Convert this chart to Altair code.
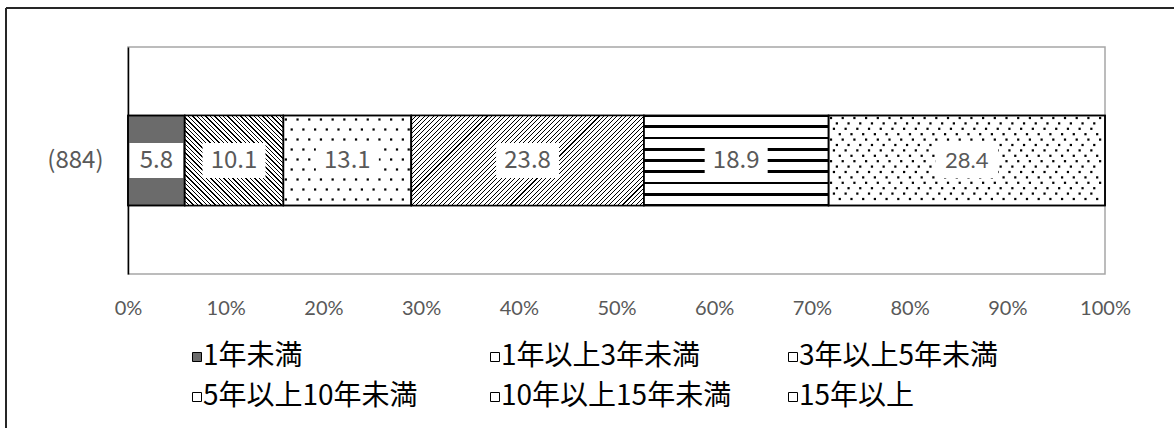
import altair as alt
import numpy as np
import pandas as pd

# ---------------- data ----------------
category = "(884)"
series_labels = ["1年未満", "1年以上3年未満", "3年以上5年未満",
                 "5年以上10年未満", "10年以上15年未満", "15年以上"]
series_values = [5.8, 10.1, 13.1, 23.8, 18.9, 28.4]
value_labels = ["5.8", "10.1", "13.1", "23.8", "18.9", "28.4"]
x_tick_values = [0, 10, 20, 30, 40, 50, 60, 70, 80, 90, 100]

# ---------------- layout (pixels) ----------------
PLOT_W, PLOT_H = 977, 227
LEFT, TOP = 128, 47
RIGHT = 1174 - LEFT - PLOT_W
BOTTOM = 428 - TOP - PLOT_H
BAND_PAD = 0.761
BAND_H = PLOT_H / (1 + 2 * BAND_PAD)
BAND_TOP = BAND_PAD * BAND_H
BAND_MID = BAND_TOP + BAND_H / 2
PCT_PER_PX = 100.0 / PLOT_W

vals = np.array(series_values)
starts = np.concatenate([[0.0], np.cumsum(vals)[:-1]])
ends = np.minimum(starts + vals, 100.0)
bars = pd.DataFrame({
    "category": category,
    "label": series_labels,
    "text": value_labels,
    "start": starts,
    "end": ends,
    "order": list(range(len(series_values))),
})
bars["mid"] = (bars["start"] + bars["end"]) / 2
half_box = 31.5 * PCT_PER_PX
bars["box_lo"] = np.maximum(bars["start"] + 0.15, bars["mid"] - half_box)
bars["box_hi"] = np.minimum(bars["end"] - 0.15, bars["mid"] + half_box)
bars["box_top"] = BAND_MID - 17.5
bars["box_bot"] = BAND_MID + 17.5


# ---------------- textures ----------------
def dot_texture(seg, dx, dy, y0, phases, margin=2.5):
    x0 = bars.loc[seg, "start"] / PCT_PER_PX
    x1 = bars.loc[seg, "end"] / PCT_PER_PX
    rows = []
    r = 0
    y = BAND_TOP + y0
    while y < BAND_TOP + BAND_H - 1.5:
        ph = phases[r % len(phases)] * dx
        for xp in np.arange(x0 + margin + ph, x1 - margin, dx):
            rows.append({"dx": xp * PCT_PER_PX, "dy": y})
        r += 1
        y += dy
    return rows


dots = pd.DataFrame(
    dot_texture(2, 11.7, 10.0, 4.0, [0, 0.5])
    + dot_texture(5, 11.7, 5.4, 2.5, [0, 0.5, 0.25, 0.75])
)


def stripe_stops(n, frac, edges=False):
    stops = [{"offset": 0.0, "color": "white"}]
    rng = range(n + 1) if edges else range(n)
    for i in rng:
        if edges:
            a, b = i / n - frac / 2, i / n + frac / 2
        else:
            a, b = i / n, (i + frac) / n
        a, b = round(min(max(a, 0.0), 1.0), 5), round(min(max(b, 0.0), 1.0), 5)
        stops += [{"offset": a, "color": "white"}, {"offset": a, "color": "black"},
                  {"offset": b, "color": "black"}, {"offset": b, "color": "white"}]
    stops.append({"offset": 1.0, "color": "white"})
    return stops


def diag_gradient(seg, spacing, line, down):
    W = (bars.loc[seg, "end"] - bars.loc[seg, "start"]) / PCT_PER_PX
    H = BAND_H
    k = (W + H) / (W * W + H * H)
    n = int(round((W + H) / spacing))
    if down:   # "\" stripes
        return alt.LinearGradient(gradient="linear", stops=stripe_stops(n, line / spacing),
                                  x1=0, y1=1, x2=round(k * W, 5), y2=round(1 - k * H, 5))
    return alt.LinearGradient(gradient="linear", stops=stripe_stops(n, line / spacing),
                              x1=0, y1=0, x2=round(k * W, 5), y2=round(k * H, 5))


horiz_gradient = alt.LinearGradient(gradient="linear",
                                    stops=stripe_stops(8, 2.7 / BAND_H, edges=True),
                                    x1=0, y1=0, x2=0, y2=1)
stripe_fills = {
    1: diag_gradient(1, 4.4, 1.4, True),
    3: diag_gradient(3, 4.5, 1.05, False),
    4: horiz_gradient,
}

base_fills = ["#6b6b6b", "#ffffff", "#ffffff", "#ffffff", "#ffffff", "#ffffff"]

# ---------------- scales / axes ----------------
xscale = alt.Scale(domain=[0, 100], nice=False, zero=False, clamp=True)
xaxis = alt.Axis(title=None, values=x_tick_values, labelExpr="datum.value + '%'",
                 grid=False, ticks=False, domain=False, labelFlush=False,
                 labelFont="Lato", labelFontSize=20, labelColor="#595959",
                 labelPadding=24)
yband = alt.Scale(paddingInner=0, paddingOuter=BAND_PAD)
ypix = alt.Scale(domain=[0, PLOT_H], reverse=True, nice=False, zero=False)

base = alt.Chart(bars).mark_bar(stroke="black", strokeWidth=1.5).encode(
    x=alt.X("start:Q", scale=xscale, axis=xaxis),
    x2="end:Q",
    y=alt.Y("category:N", scale=yband,
            axis=alt.Axis(title=None, ticks=False, grid=False, domainColor="black",
                          domainWidth=1.5, labelFont="Noto Sans CJK JP", labelFontSize=24,
                          labelColor="#595959", labelPadding=25)),
    color=alt.Color("label:N", scale=alt.Scale(domain=series_labels, range=base_fills),
                    legend=alt.Legend(title=None, orient="none", legendX=55, legendY=296,
                                      direction="horizontal", columns=3, symbolType="square",
                                      symbolSize=81, symbolStrokeColor="black",
                                      symbolStrokeWidth=1, labelFont="Noto Sans CJK JP",
                                      labelFontSize=28, labelColor="black", columnPadding=47,
                                      rowPadding=12, gridAlign="all", labelLimit=400,
                                      labelOffset={"expr": "-8"})),
)

stripe_layers = []
for seg, grad in stripe_fills.items():
    stripe_layers.append(
        alt.Chart(bars).transform_filter(alt.datum.order == seg)
        .mark_bar(fill=grad, strokeWidth=0)
        .encode(x=alt.X("start:Q", scale=xscale, axis=xaxis), x2="end:Q",
                y=alt.Y("category:N", scale=yband, axis=None))
    )

dot_layer = alt.Chart(dots).mark_square(size=5, color="black", opacity=1).encode(
    x=alt.X("dx:Q", scale=xscale, axis=xaxis),
    y=alt.Y("dy:Q", scale=ypix, axis=None),
)

box_layer = alt.Chart(bars).mark_rect(color="white").encode(
    x=alt.X("box_lo:Q", scale=xscale, axis=xaxis), x2="box_hi:Q",
    y=alt.Y("box_top:Q", scale=ypix, axis=None), y2="box_bot:Q",
)

outline = alt.Chart(bars).mark_bar(fillOpacity=0, stroke="black", strokeWidth=1.5).encode(
    x=alt.X("start:Q", scale=xscale, axis=xaxis), x2="end:Q",
    y=alt.Y("category:N", scale=yband, axis=None),
)

text_a = alt.Chart(bars).transform_filter(alt.datum.order < 5).mark_text(
    font="Noto Sans CJK JP", fontSize=24, color="#595959").encode(
    x=alt.X("mid:Q", scale=xscale, axis=xaxis),
    y=alt.Y("category:N", scale=yband, axis=None),
    text="text:N",
)
text_b = alt.Chart(bars).transform_filter(alt.datum.order >= 5).mark_text(
    font="Lato", fontSize=22, color="#595959").encode(
    x=alt.X("mid:Q", scale=xscale, axis=xaxis),
    y=alt.Y("category:N", scale=yband, axis=None),
    text="text:N",
)

frame_df = pd.DataFrame({"frame": [0]})
frame_top = alt.Chart(frame_df).mark_rule(color="#262626", strokeWidth=2).encode(
    x=alt.value(6 - LEFT), x2=alt.value(1174 - LEFT + 10), y=alt.value(8 - TOP))
frame_left = alt.Chart(frame_df).mark_rule(color="#262626", strokeWidth=2).encode(
    x=alt.value(6 - LEFT), y=alt.value(8 - TOP), y2=alt.value(428 - TOP + 10))

chart = alt.layer(
    base, *stripe_layers, dot_layer, box_layer, outline, text_a, text_b,
    frame_top, frame_left,
).resolve_scale(y="independent").properties(
    width=PLOT_W, height=PLOT_H,
    autosize=alt.AutoSizeParams(type="none"),
    padding={"left": LEFT, "top": TOP, "right": RIGHT, "bottom": BOTTOM},
    background="white",
).configure_view(stroke="#a6a6a6", strokeWidth=1.5)

chart.save("out.html", embed_options={"renderer": "svg", "actions": False})
